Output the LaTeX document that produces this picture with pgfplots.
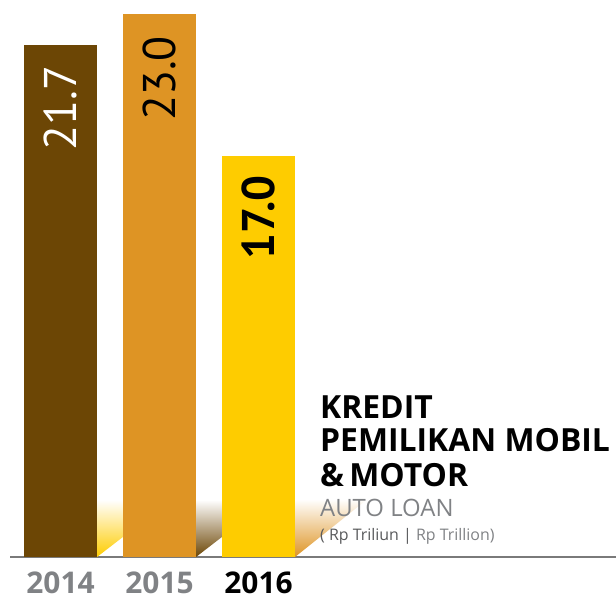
\documentclass[border=0pt]{standalone}
\usepackage{fontspec}
\setmainfont{Open Sans}
\newfontfamily\numfont{PT Sans}
\usepackage{pgfplots}
\pgfplotsset{compat=1.18}
\definecolor{cA}{HTML}{6C4605}
\definecolor{cB}{HTML}{DE9424}
\definecolor{cC}{HTML}{FECC00}
\definecolor{gr}{HTML}{808285}
\definecolor{dgr}{HTML}{58595B}
\definecolor{axisgr}{HTML}{7A7A7A}
\begin{document}
\begin{tikzpicture}
\begin{axis}[
  name=ax, at={(0,0)}, anchor=south west,
  scale only axis, width=606bp, height=557bp,
  xmin=-0.51, xmax=5.611, ymin=0, ymax=23.6,
  axis x line*=bottom, axis y line=none,
  x axis line style={-, draw=axisgr, line width=1.3bp},
  xtick={0,1,2},
  xticklabels={\textcolor{gr}{2014},\textcolor{gr}{2015},2016},
  xticklabel style={font=\bfseries\fontsize{30}{30}\selectfont, inner sep=0pt, anchor=north, yshift=-15bp},
  major tick length=0pt,
  clip=false,
  /pgf/number format/assume math mode=true,
]
% decorative shadows
\path[top color=white, bottom color=cC] (axis cs:0.3687,0) -- (axis cs:0.6313,0.85) -- (axis cs:0.6313,2.42) -- (axis cs:0.3687,2.42) -- cycle;
\path[top color=white, bottom color=cA] (axis cs:1.3687,0) -- (axis cs:1.6313,0.85) -- (axis cs:1.6313,2.42) -- (axis cs:1.3687,2.42) -- cycle;
\path[top color=white, bottom color=cB] (axis cs:2.3687,0) -- (axis cs:3.10,2.45) -- (axis cs:2.3687,2.45) -- cycle;

\addplot[ybar, bar width=0.7374, bar shift=0pt, fill=cA, draw=none,
  nodes near coords={\numfont\pgfmathprintnumber[fixed,fixed zerofill,precision=1]{\pgfplotspointmeta}},
  every node near coord/.append style={text=white, rotate=90, anchor=east, inner sep=0pt, outer xsep=21bp, font=\fontsize{46}{46}\selectfont}]
  coordinates {(0,21.7)};
\addplot[ybar, bar width=0.7374, bar shift=0pt, fill=cB, draw=none,
  nodes near coords={\numfont\pgfmathprintnumber[fixed,fixed zerofill,precision=1]{\pgfplotspointmeta}},
  every node near coord/.append style={text=black, rotate=90, anchor=east, inner sep=0pt, outer xsep=22bp, font=\fontsize{46}{46}\selectfont}]
  coordinates {(1,23.0)};
\addplot[ybar, bar width=0.7374, bar shift=0pt, fill=cC, draw=none,
  nodes near coords={\numfont\bfseries\pgfmathprintnumber[fixed,fixed zerofill,precision=1]{\pgfplotspointmeta}},
  every node near coord/.append style={text=black, rotate=90, anchor=east, inner sep=0pt, outer xsep=20bp, font=\fontsize{46}{46}\selectfont}]
  coordinates {(2,17.0)};

% title
\node[anchor=base west, inner sep=0pt, font=\bfseries\fontsize{32}{32}\selectfont] at (axis cs:2.621,5.85) {KREDIT};
\node[anchor=base west, inner sep=0pt, font=\bfseries\fontsize{32}{32}\selectfont] at (axis cs:2.621,4.45) {PEMILIKAN MOBIL};
\node[anchor=base west, inner sep=0pt, font=\bfseries\fontsize{32}{32}\selectfont] at (axis cs:2.621,2.97) {\&\,MOTOR};
\node[anchor=base west, inner sep=0pt, text=gr, font=\fontsize{24}{24}\selectfont] at (axis cs:2.621,1.695) {AUTO LOAN};
\node[anchor=base west, inner sep=0pt, font=\fontsize{16}{16}\selectfont] at (axis cs:2.621,0.68) {\textcolor{dgr}{( Rp Triliun |} \textcolor{gr}{Rp Trillion)}};
\end{axis}
\pgfresetboundingbox
\path ([xshift=-10bp,yshift=-43bp]ax.south west) rectangle (ax.north east);
\end{tikzpicture}
\end{document}
